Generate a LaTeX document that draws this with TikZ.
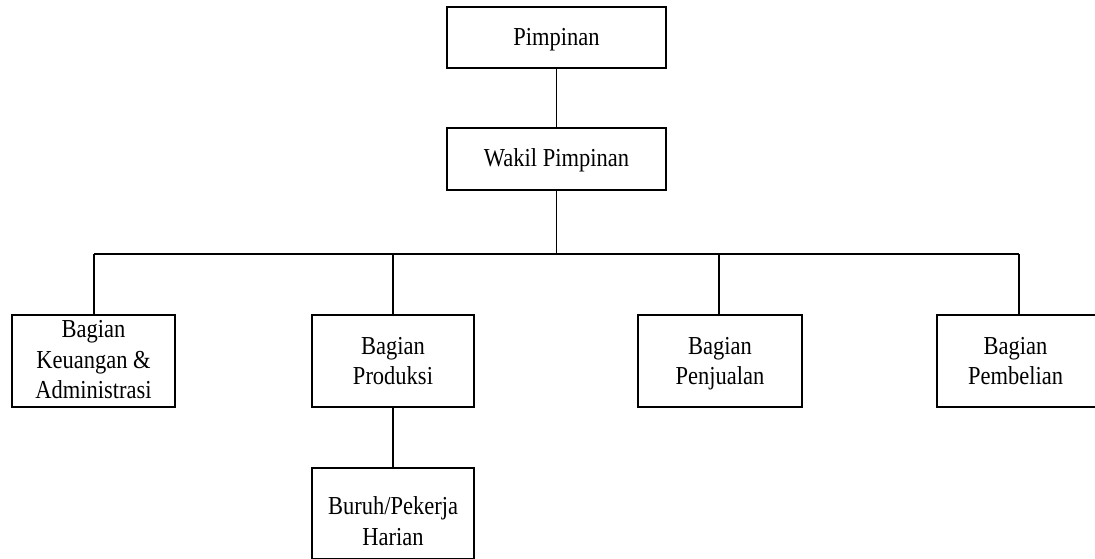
\documentclass[tikz,border=0pt]{standalone}
\usepackage{fontspec}
\setmainfont{Liberation Serif}
\newcommand{\tx}[1]{\scalebox{1}[1.15]{\begin{tabular}{@{}c@{}}#1\end{tabular}}}
\begin{document}
\begin{tikzpicture}[x=1pt,y=1pt,
  box/.style={draw=black, line width=1.3pt, rectangle, inner sep=0pt, align=center,
    font=\fontsize{22.5}{26.5}\selectfont},
  txt/.style={inner sep=0pt, align=center, font=\fontsize{22.5}{26.5}\selectfont},
  conn/.style={draw=black, line width=1.3pt}]
\useasboundingbox (0,0) rectangle (1095,-559);
\clip (0,0) rectangle (1095,-559);
\node[box, minimum width=219pt, minimum height=61pt] (pim) at (556.5,-37.5) {};
\node[txt] (pimt) at (556.5,-39) {\tx{Pimpinan}};
\node[box, minimum width=219pt, minimum height=62pt] (wak) at (556.5,-159) {};
\node[txt] (wakt) at (556.5,-160.5) {\tx{Wakil Pimpinan}};
\node[box, minimum width=163pt, minimum height=92pt] (keu) at (93.5,-361) {};
\node[txt] (keut) at (93.5,-362) {\tx{Bagian\\Keuangan \&\\Administrasi}};
\node[box, minimum width=162pt, minimum height=92pt] (pro) at (393,-361) {};
\node[txt] (prot) at (393,-363.5) {\tx{Bagian\\Produksi}};
\node[box, minimum width=164pt, minimum height=92pt] (pen) at (720,-361) {};
\node[txt] (pent) at (720,-363.5) {\tx{Bagian\\Penjualan}};
\node[box, minimum width=170pt, minimum height=92pt] (pem) at (1022,-361) {};
\node[txt] (pemt) at (1015.5,-363.5) {\tx{Bagian\\Pembelian}};
\node[box, minimum width=162pt, minimum height=91pt] (bur) at (393,-513.5) {};
\node[txt] (burt) at (393,-524) {\tx{Buruh/Pekerja\\Harian}};
\coordinate (bus) at (556.5,-254);
\coordinate (b1) at (94,-254);
\coordinate (b2) at (393,-254);
\coordinate (b3) at (719,-254);
\coordinate (b4) at (1019,-254);
\draw[conn] (pim.south) -- (wak.north);
\draw[conn] (wak.south) -- (bus);
\draw[conn] (b1) -- (b4);
\draw[conn] (b1) -- (b1 |- keu.north);
\draw[conn] (b2) -- (pro.north);
\draw[conn] (b3) -- (b3 |- pen.north);
\draw[conn] (b4) -- (b4 |- pem.north);
\draw[conn] (pro.south) -- (bur.north);
\end{tikzpicture}
\end{document}
